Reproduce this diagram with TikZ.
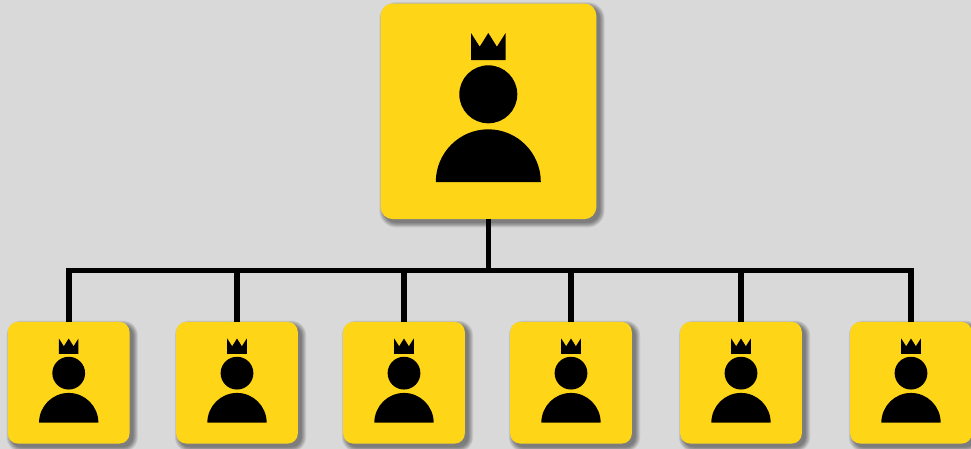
\documentclass[tikz,border=0pt]{standalone}
\definecolor{bgcol}{HTML}{D9D9D9}
\definecolor{boxcol}{HTML}{FFD617}
\tikzset{
  personbox/.style={fill=boxcol,rounded corners=#1,inner sep=0pt,outer sep=0pt,shape=rectangle},
  wire/.style={draw=black,line width=5.8pt,line join=miter},
}
\newcommand{\softshadow}[4]{%
  \foreach \g in {9,8,...,0}{%
    \fill[black,opacity=0.05,rounded corners=#4+\g*0.55]
      ({#1+3.5-\g*0.55-#3},{#2+3.5-\g*0.55-#3}) rectangle ({#1+3.5+\g*0.55+#3},{#2+3.5+\g*0.55+#3});
  }%
}
\newcommand{\personicon}[3]{%
  \begin{scope}[shift={(#1,#2)},scale=#3]
    \fill[black] (-17.3,-78.3) -- (-8.6,-64.6) -- (0,-78.3) -- (8.6,-64.6) -- (17.3,-78.3) -- (17.3,-51.3) -- (-17.3,-51.3) -- cycle;
    \fill[black] (0,-17) circle[radius=29];
    \fill[black] (-52.5,70.7) arc[start angle=180,end angle=360,x radius=52.5,y radius=52.7] -- cycle;
  \end{scope}%
}
\newcommand{\smallperson}[3]{%
  \softshadow{#2}{#3}{60.8}{10}
  \node[personbox=10pt,minimum width=121.6pt,minimum height=121.6pt] (#1) at (#2,#3) {};
  \personicon{#2}{#3}{0.565}
}
\begin{document}
\begin{tikzpicture}[x=1pt,y=-1pt]
  \useasboundingbox (0,0) rectangle (971,448);
  \fill[bgcol] (-5,-5) rectangle (976,453);
  \softshadow{488.5}{111.3}{107.8}{12}
  \node[personbox=12pt,minimum width=215.6pt,minimum height=215.6pt] (top) at (488.5,111.3) {};
  \personicon{488.3}{111.3}{1}
  \smallperson{pa}{68.7}{382.75}
  \smallperson{pb}{237}{382.75}
  \smallperson{pc}{404}{382.75}
  \smallperson{pd}{571}{382.75}
  \smallperson{pe}{741}{382.75}
  \smallperson{pf}{911}{382.75}
  \coordinate (bus) at (488,270.5);
  \draw[wire] (pa.north) |- (bus) -| (pf.north);
  \draw[wire] (top.south) -- (top.south |- bus);
  \draw[wire] (pb.north) -- (pb.north |- bus);
  \draw[wire] (pc.north) -- (pc.north |- bus);
  \draw[wire] (pd.north) -- (pd.north |- bus);
  \draw[wire] (pe.north) -- (pe.north |- bus);
\end{tikzpicture}
\end{document}
